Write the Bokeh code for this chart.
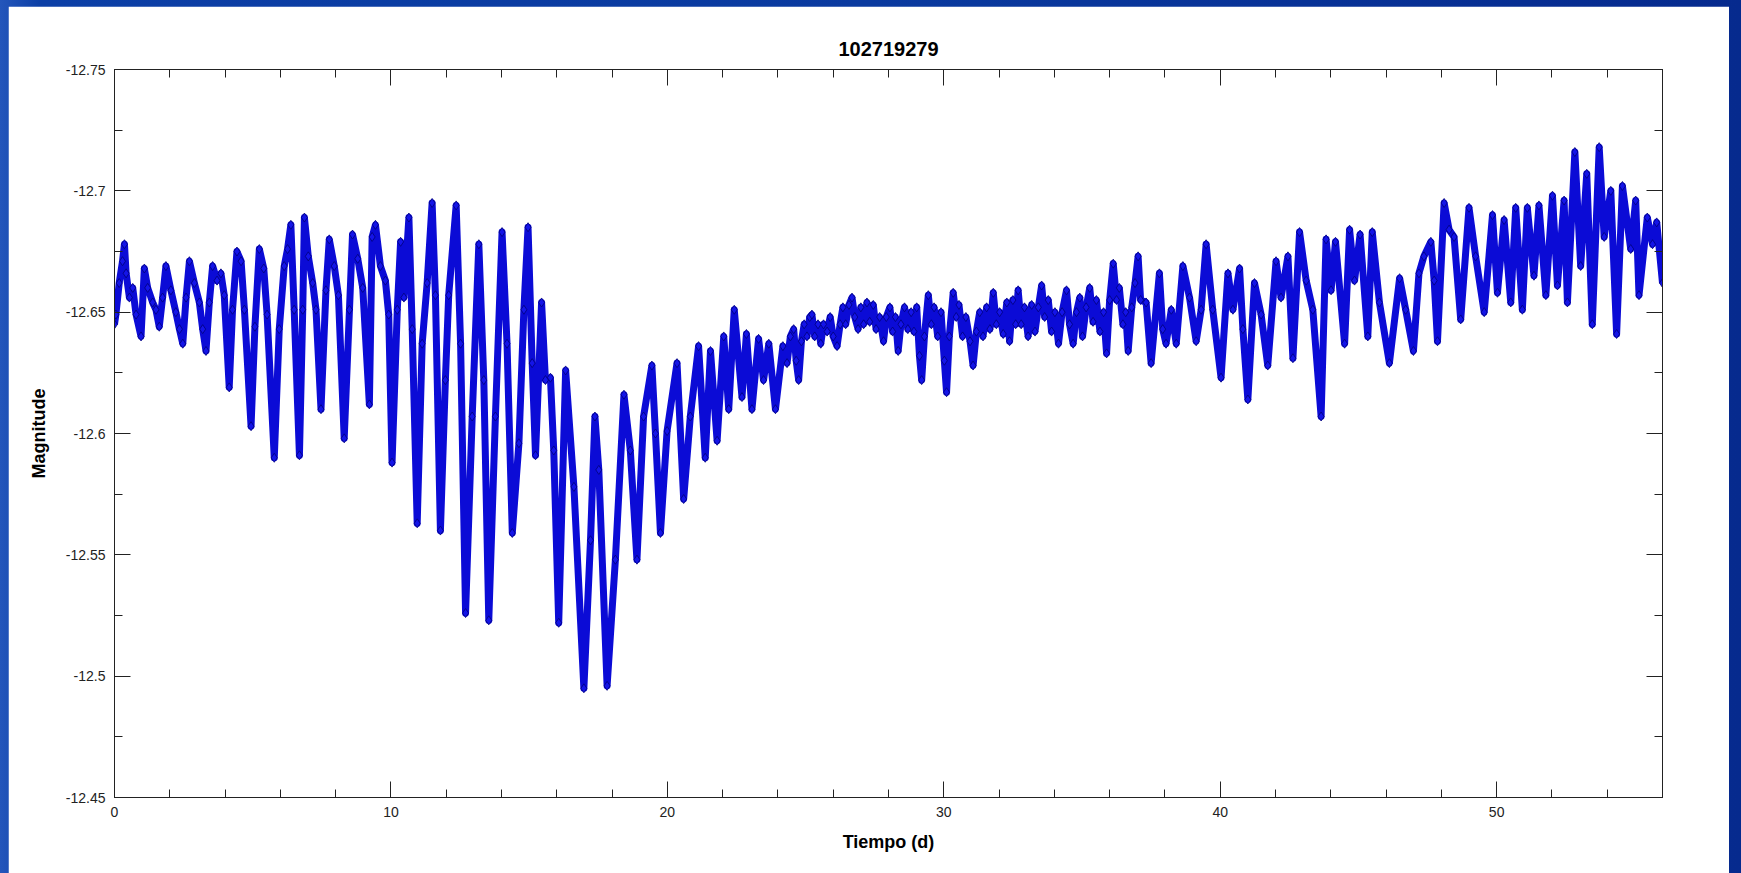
from bokeh.plotting import figure
from bokeh.layouts import column
from bokeh.models import Range1d, LinearAxis, FixedTicker, CustomJSTickFormatter, Title
from bokeh.embed import file_html
from bokeh.resources import INLINE

# ---- light-curve readings (time in days, magnitude) ----
time_a = [
    0.00, 0.05, 0.17, 0.29, 0.36, 0.42, 0.54, 0.66, 0.78, 0.96,
    1.08, 1.20, 1.38, 1.50, 1.62, 1.74, 1.86, 2.04, 2.22, 2.35,
    2.47, 2.59, 2.71, 2.89, 3.07, 3.19, 3.31, 3.43, 3.55, 3.71,
    3.85, 3.97, 4.15, 4.27, 4.43, 4.58, 4.70, 4.94, 5.08, 5.24,
    5.40, 5.52, 5.78, 5.96, 6.14, 6.26, 6.38, 6.50, 6.69, 6.81,
    6.87, 7.01, 7.17, 7.29, 7.47, 7.65, 7.77, 7.95, 8.10, 8.31,
    8.50, 8.61, 8.80, 8.98, 9.22,
]
mag_a = [
    -12.645, -12.649, -12.662, -12.671, -12.678, -12.666, -12.656, -12.660, -12.649, -12.640,
    -12.668, -12.660, -12.654, -12.651, -12.644, -12.656, -12.669, -12.659, -12.650, -12.643,
    -12.637, -12.656, -12.671, -12.662, -12.654, -12.643, -12.634, -12.654, -12.669, -12.663,
    -12.666, -12.657, -12.619, -12.651, -12.675, -12.671, -12.651, -12.603, -12.644, -12.676,
    -12.668, -12.649, -12.590, -12.643, -12.669, -12.676, -12.686, -12.651, -12.591, -12.651,
    -12.689, -12.673, -12.662, -12.651, -12.610, -12.659, -12.680, -12.669, -12.657, -12.598,
    -12.651, -12.682, -12.672, -12.660, -12.612,
]
time_b = [
    9.32, 9.44, 9.62, 9.80, 9.92, 10.04, 10.23, 10.35, 10.47, 10.65,
    10.77, 10.95, 11.13, 11.31, 11.49, 11.61, 11.79, 11.97, 12.09, 12.36,
    12.52, 12.70, 12.94, 13.18, 13.36, 13.54, 13.78, 14.02, 14.20, 14.39,
    14.63, 14.81, 14.96, 15.11, 15.23, 15.45, 15.59, 15.77, 15.89, 16.07,
    16.32, 16.62, 16.98, 17.22, 17.38, 17.52, 17.82, 18.12, 18.43,
]
mag_b = [
    -12.681, -12.686, -12.669, -12.663, -12.649, -12.588, -12.651, -12.679, -12.656, -12.689,
    -12.643, -12.563, -12.637, -12.662, -12.695, -12.657, -12.560, -12.622, -12.657, -12.694,
    -12.637, -12.526, -12.607, -12.678, -12.622, -12.523, -12.607, -12.683, -12.637, -12.559,
    -12.596, -12.651, -12.685, -12.629, -12.591, -12.654, -12.622, -12.623, -12.593, -12.522,
    -12.626, -12.578, -12.495, -12.556, -12.607, -12.585, -12.496, -12.548, -12.616,
]
time_c = [
    18.66, 18.90, 19.14, 19.44, 19.57, 19.75, 19.99, 20.35, 20.59, 20.83,
    21.13, 21.37, 21.56, 21.80, 22.04, 22.22, 22.42, 22.70, 22.86, 23.06,
    23.30, 23.48, 23.67, 23.91, 24.18, 24.33,
]
mag_c = [
    -12.593, -12.548, -12.607, -12.628, -12.600, -12.559, -12.601, -12.629, -12.573, -12.607,
    -12.636, -12.590, -12.634, -12.597, -12.640, -12.610, -12.651, -12.615, -12.641, -12.610,
    -12.639, -12.622, -12.637, -12.610, -12.636, -12.629,
]
time_d = [
    24.45, 24.57, 24.66, 24.75, 24.85, 24.95, 25.05, 25.15, 25.23, 25.33,
    25.45, 25.55, 25.65, 25.78, 25.89, 26.00, 26.14, 26.25, 26.35, 26.45,
    26.57, 26.68, 26.78, 26.90, 27.00, 27.10, 27.22, 27.32, 27.45, 27.55,
    27.68, 27.82, 27.92, 28.05, 28.15, 28.25, 28.35, 28.45, 28.58, 28.70,
    28.82, 28.92, 29.02, 29.12, 29.20, 29.30, 29.44, 29.55, 29.65, 29.78,
    29.90, 30.02, 30.10, 30.20, 30.34, 30.45, 30.55, 30.68, 30.80, 30.95,
    31.06, 31.18, 31.30, 31.42, 31.55, 31.67, 31.79, 31.90, 32.02, 32.15,
    32.28, 32.38, 32.50, 32.60, 32.69, 32.80, 32.92, 33.05, 33.18, 33.30,
    33.42, 33.54, 33.65, 33.78, 33.90, 34.02, 34.15, 34.28, 34.44, 34.55,
    34.68, 34.80, 34.92, 35.02, 35.15, 35.28, 35.40, 35.52, 35.65, 35.78,
    35.89, 36.00, 36.13, 36.25, 36.35, 36.48, 36.58, 36.67, 36.80, 36.92,
    37.03, 37.12,
]
mag_d = [
    -12.640, -12.643, -12.630, -12.622, -12.638, -12.645, -12.640, -12.648, -12.649, -12.640,
    -12.645, -12.637, -12.645, -12.642, -12.648, -12.640, -12.636, -12.645, -12.652, -12.645,
    -12.653, -12.656, -12.648, -12.643, -12.652, -12.645, -12.654, -12.646, -12.653, -12.643,
    -12.648, -12.638, -12.648, -12.652, -12.642, -12.648, -12.634, -12.645, -12.652, -12.643,
    -12.650, -12.642, -12.652, -12.632, -12.622, -12.640, -12.657, -12.645, -12.652, -12.640,
    -12.650, -12.630, -12.617, -12.640, -12.658, -12.648, -12.653, -12.640, -12.648, -12.638,
    -12.628, -12.642, -12.650, -12.640, -12.652, -12.643, -12.658, -12.645, -12.650, -12.641,
    -12.654, -12.638, -12.655, -12.645, -12.659, -12.645, -12.652, -12.640, -12.653, -12.642,
    -12.652, -12.661, -12.648, -12.655, -12.642, -12.650, -12.637, -12.650, -12.659, -12.645,
    -12.637, -12.650, -12.656, -12.640, -12.652, -12.660, -12.646, -12.655, -12.642, -12.650,
    -12.633, -12.655, -12.670, -12.655, -12.660, -12.645, -12.650, -12.634, -12.652, -12.662,
    -12.673, -12.655,
]
time_e = [
    37.32, 37.50, 37.80, 37.92, 38.04, 38.23, 38.41, 38.65, 38.89, 39.13,
    39.31, 39.49, 39.73, 40.03, 40.28, 40.46, 40.70, 40.82, 41.00, 41.24,
    41.48, 41.72, 42.02, 42.20, 42.45, 42.63, 42.87, 43.11, 43.35, 43.65,
    43.83, 44.01, 44.17, 44.50, 44.68, 44.86, 45.06, 45.34, 45.50, 45.76,
    46.12, 46.49,
]
mag_e = [
    -12.654, -12.629, -12.666, -12.643, -12.637, -12.651, -12.637, -12.669, -12.656, -12.638,
    -12.651, -12.678, -12.651, -12.623, -12.666, -12.651, -12.668, -12.643, -12.614, -12.662,
    -12.649, -12.628, -12.671, -12.656, -12.673, -12.631, -12.683, -12.663, -12.651, -12.607,
    -12.680, -12.659, -12.679, -12.637, -12.684, -12.663, -12.682, -12.640, -12.683, -12.654,
    -12.629, -12.664,
]
time_f = [
    46.71, 46.99, 47.19, 47.37, 47.62, 47.74, 47.86, 48.10, 48.28, 48.46,
    48.70, 49.00, 49.24, 49.55, 49.85, 50.03, 50.27, 50.51, 50.69, 50.93,
    51.11, 51.35, 51.53, 51.78, 52.02, 52.20, 52.44, 52.56, 52.83, 53.04,
    53.26, 53.46, 53.71, 53.89, 54.13, 54.34, 54.55, 54.85, 55.03, 55.15,
    55.45, 55.64, 55.79, 56.00,
]
mag_f = [
    -12.651, -12.634, -12.666, -12.673, -12.679, -12.663, -12.638, -12.695, -12.684, -12.681,
    -12.647, -12.693, -12.673, -12.650, -12.690, -12.658, -12.688, -12.654, -12.693, -12.651,
    -12.693, -12.665, -12.694, -12.657, -12.698, -12.661, -12.696, -12.654, -12.716, -12.669,
    -12.707, -12.645, -12.718, -12.681, -12.700, -12.641, -12.702, -12.676, -12.696, -12.657,
    -12.689, -12.678, -12.687, -12.662,
]

title_text = "102719279"
x_label = "Tiempo (d)"
y_label = "Magnitude"
x_ticks = [0, 10, 20, 30, 40, 50]
x_tick_labels = ["0", "10", "20", "30", "40", "50"]
y_ticks = [-12.75, -12.7, -12.65, -12.6, -12.55, -12.5, -12.45]
y_tick_labels = ["-12.75", "-12.7", "-12.65", "-12.6", "-12.55", "-12.5", "-12.45"]
x_minor = list(range(0, 57, 2))
y_minor = [-12.725, -12.675, -12.625, -12.575, -12.525, -12.475]

time_all = time_a + time_b + time_c + time_d + time_e + time_f
mag_all = mag_a + mag_b + mag_c + mag_d + mag_e + mag_f

FONT = "Liberation Sans"

p = figure(
    width=1721, height=867,
    x_range=Range1d(0, 56), y_range=Range1d(-12.45, -12.75),
    output_backend="svg", toolbar_location=None,
    min_border_left=106, min_border_right=67, min_border_top=63, min_border_bottom=76,
    x_axis_location=None, y_axis_location=None,
)
p.background_fill_color = "white"
p.border_fill_color = "white"
p.outline_line_color = "#222222"
p.outline_line_width = 1
p.grid.visible = False

JS = """
let k = -1;
for (let j = 0; j < tvals.length; j++) { if (Math.abs(tvals[j] - tick) < 1e-6) { k = j; } }
return k >= 0 ? tlabels[k] : '';
"""
fmt_x = CustomJSTickFormatter(args=dict(tvals=x_ticks, tlabels=x_tick_labels), code=JS)
fmt_y = CustomJSTickFormatter(args=dict(tvals=y_ticks, tlabels=y_tick_labels), code=JS)


def style_axis(ax, show_labels):
    ax.axis_line_color = "#222222"
    ax.major_tick_in = 16
    ax.major_tick_out = 0
    ax.minor_tick_in = 8
    ax.minor_tick_out = 0
    ax.major_tick_line_color = "#222222"
    ax.minor_tick_line_color = "#222222"
    ax.major_label_text_font = FONT
    ax.major_label_text_font_size = "14px"
    ax.major_label_text_color = "#222222" if show_labels else None
    ax.axis_label_text_font = FONT
    ax.axis_label_text_font_style = "bold"
    ax.axis_label_text_font_size = "18px"
    ax.axis_label_text_color = "black"


xb = LinearAxis(ticker=FixedTicker(ticks=x_ticks, minor_ticks=x_minor), formatter=fmt_x,
                axis_label=x_label)
style_axis(xb, True)
xb.major_label_standoff = 9
xb.axis_label_standoff = 12
p.add_layout(xb, "below")

xt = LinearAxis(ticker=FixedTicker(ticks=x_ticks, minor_ticks=x_minor), formatter=fmt_x)
style_axis(xt, False)
xt.major_label_standoff = 0
p.add_layout(xt, "above")

yl = LinearAxis(ticker=FixedTicker(ticks=y_ticks, minor_ticks=y_minor), formatter=fmt_y,
                axis_label=y_label)
style_axis(yl, True)
yl.major_label_standoff = 9
yl.axis_label_standoff = 14
p.add_layout(yl, "left")

yr = LinearAxis(ticker=FixedTicker(ticks=y_ticks, minor_ticks=y_minor), formatter=fmt_y)
style_axis(yr, False)
yr.major_label_standoff = 0
p.add_layout(yr, "right")

p.title = Title(text=title_text, align="center", text_font=FONT, text_font_style="bold",
                text_font_size="20px", text_color="black", standoff=28)

p.line(time_all, mag_all, line_color="#0b0bd6", line_width=7, line_join="round")
p.scatter(time_all, mag_all, marker="diamond", size=9, fill_color="#1414e8",
          line_color="#00007a", line_width=0.8)

layout = column(p, styles={
    "background": "linear-gradient(to right, #2456bb 0px, #0c3fa6 40px, #0a3a9f 50%, #062a8e 100%)",
    "padding": "6px 12px 0px 8px",
})

open("out.html", "w").write(file_html(layout, INLINE))
